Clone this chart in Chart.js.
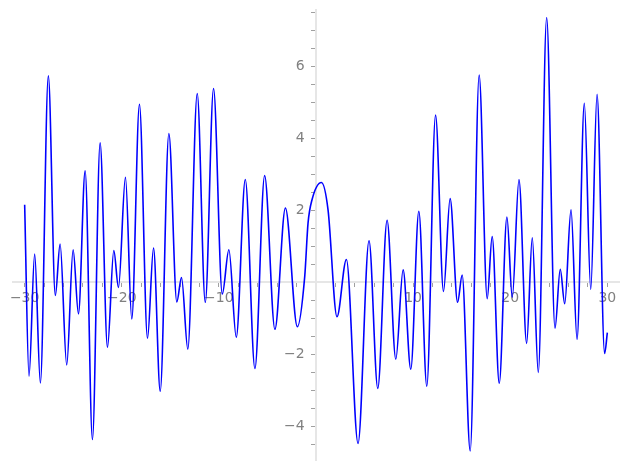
<!DOCTYPE html>
<html>
<head>
<meta charset="utf-8">
<script src="https://cdn.jsdelivr.net/npm/chart.js@4"></script>
<style>
  html, body { margin: 0; padding: 0; background: #fff; }
  #wrap { width: 627px; height: 470px; }
</style>
</head>
<body>
<div id="wrap"><canvas id="plotChart" width="627" height="470"></canvas></div>
<script>
// curve: turning points plus a few shoulder points
const xValues = [
    -30.0, -29.55, -28.97, -28.38, -27.56, -26.84, -26.35, -25.67, -25.01, -24.46,
    -23.77, -23.02, -22.23, -21.47, -20.82, -20.34, -19.62, -18.97, -18.18, -17.35,
    -16.73, -16.04, -15.15, -14.33, -13.85, -13.20, -12.23, -11.40, -10.55, -9.65,
    -8.97, -8.21, -7.28, -6.29, -5.29, -4.23, -3.15, -1.92, -1.16, -0.82,
    -0.41, 0.56, 1.24, 2.16, 3.13, 4.33, 5.46, 6.36, 7.32, 8.22,
    8.97, 9.76, 10.59, 11.41, 12.31, 13.13, 13.81, 14.58, 15.05, 15.88,
    16.80, 17.63, 18.14, 18.87, 19.66, 20.21, 20.90, 21.69, 22.27, 22.89,
    23.75, 24.61, 25.15, 25.61, 26.26, 26.88, 27.63, 28.29, 28.94, 29.72,
    30.0
];
const yValues = [
    2.15, -2.61, 0.78, -2.80, 5.73, -0.37, 1.06, -2.30, 0.90, -0.88,
    3.09, -4.37, 3.87, -1.81, 0.88, -0.15, 2.91, -1.02, 4.94, -1.56,
    0.95, -3.03, 4.13, -0.55, 0.13, -1.86, 5.24, -0.56, 5.38, -0.33,
    0.90, -1.53, 2.85, -2.40, 2.96, -1.31, 2.06, -1.24, 0.16, 1.64,
    2.29, 2.77, 2.01, -0.96, 0.63, -4.48, 1.15, -2.95, 1.72, -2.14,
    0.34, -2.42, 1.97, -2.89, 4.64, -0.26, 2.32, -0.56, 0.20, -4.69,
    5.75, -0.46, 1.27, -2.81, 1.81, -0.42, 2.85, -1.70, 1.23, -2.51,
    7.35, -1.28, 0.36, -0.60, 2.01, -1.59, 4.97, -0.20, 5.22, -1.98,
    -1.40
];

const xTickLabels = [-30, -20, -10, 10, 20, 30];
const yTickLabels = [-4, -2, 2, 4, 6];
const xMinorStep = 2;
const yMinorStep = 0.5;

// tick positions (minor ticks carry an empty label)
const xTickValues = [];
for (let v = -30; v <= 30; v += xMinorStep) xTickValues.push(v);
const yTickValues = [];
for (let v = -4.5; v <= 7.5 + 1e-9; v += yMinorStep) yTickValues.push(Math.round(v * 10) / 10);

const points = xValues.map((x, i) => ({ x: x, y: yValues[i] }));

function fmt(v) {
    return v < 0 ? '\u2212' + Math.abs(v) : String(v);
}

// axes sit inside the plot, so their labels should not shrink it
function noPadding(scale) {
    scale.paddingTop = 0;
    scale.paddingBottom = 0;
    scale.paddingLeft = 0;
    scale.paddingRight = 0;
}

const tickFont = { family: 'DejaVu Sans', size: 14 };
const labelColor = '#808080';

const ctx = document.getElementById('plotChart').getContext('2d');

let plotChart = new Chart(ctx, {
    type: 'line',
    data: {
        datasets: [
            {
                data: points,
                borderColor: '#0000ff',
                borderWidth: 1.6,
                pointRadius: 0,
                fill: false,
                cubicInterpolationMode: 'monotone'
            }
        ]
    },
    options: {
        responsive: false,
        animation: false,
        layout: {
            padding: { left: 13, right: 8, top: 10, bottom: 10 }
        },
        plugins: {
            legend: { display: false },
            tooltip: { enabled: false }
        },
        scales: {
            x: {
                type: 'linear',
                min: -31.2,
                max: 31.2,
                position: { y: 0 },
                afterBuildTicks: scale => {
                    scale.ticks = xTickValues.map(v => ({ value: v }));
                },
                afterFit: noPadding,
                ticks: {
                    autoSkip: false,
                    maxRotation: 0,
                    padding: 4,
                    color: labelColor,
                    font: tickFont,
                    callback: v => xTickLabels.includes(v) ? fmt(v) : ''
                },
                grid: {
                    drawOnChartArea: false,
                    tickLength: 4,
                    tickColor: '#a0a0a0'
                },
                border: { color: '#e6e6e6', width: 2 }
            },
            y: {
                type: 'linear',
                min: -4.94,
                max: 7.56,
                position: { x: 0 },
                afterBuildTicks: scale => {
                    scale.ticks = yTickValues.map(v => ({ value: v }));
                },
                afterFit: noPadding,
                ticks: {
                    autoSkip: false,
                    color: labelColor,
                    font: tickFont,
                    // labels are right-aligned on the axis line itself; trailing gap moves them off it
                    callback: v => yTickLabels.includes(v) ? fmt(v) + '\u2002 ' : ''
                },
                grid: {
                    drawOnChartArea: false,
                    tickLength: 4,
                    tickColor: '#a0a0a0'
                },
                border: { color: '#e6e6e6', width: 2 }
            }
        }
    }
});
</script>
</body>
</html>
